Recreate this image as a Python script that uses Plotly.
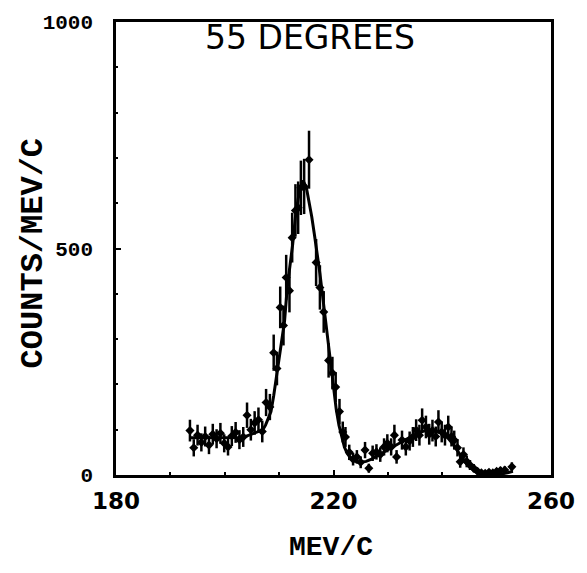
import plotly.graph_objects as go

# ---- data ----
data_x = [193.6, 194.3, 195.0, 195.7, 196.4, 197.1, 197.8, 198.5, 199.2, 199.9,
          200.6, 201.3, 202.0, 202.7, 203.4, 204.1, 204.8, 205.5, 206.2, 206.9,
          207.6, 208.3, 209.0, 209.6, 210.2, 210.8, 211.3, 211.9, 212.4, 213.0,
          213.5, 214.0, 214.6, 215.5, 216.8, 217.5, 218.2, 219.1, 219.8, 220.4,
          221.1, 221.7, 222.2, 222.9, 223.6, 224.3, 225.0, 225.8, 226.5, 227.2,
          227.9, 228.6, 229.3, 229.9, 230.6, 231.2, 231.6, 232.6, 233.3, 234.0,
          234.6, 235.2, 235.8, 236.3, 237.0, 237.6, 238.2, 238.8, 239.3, 239.9,
          240.5, 241.1, 241.7, 242.2, 242.8, 243.3, 243.9, 244.5, 245.1, 245.8,
          246.5, 247.2, 247.9, 248.6, 249.3, 250.0, 250.7, 251.5, 252.8]
data_y = [98, 60, 88, 72, 85, 66, 90, 80, 92, 70,
          62, 86, 94, 78, 84, 132, 100, 115, 122, 96,
          160, 150, 270, 235, 370, 330, 436, 407, 524, 584,
          590, 634, 637, 696, 469, 414, 360, 253, 225, 194,
          140, 95, 84, 50, 35, 40, 28, 55, 15, 48,
          51, 45, 62, 70, 62, 88, 40, 77, 62, 75,
          84, 99, 88, 121, 106, 90, 98, 85, 117, 95,
          88, 106, 85, 77, 60, 29, 45, 30, 22, 15,
          8, 5, 4, 6, 5, 8, 10, 11, 18]
data_err = [24, 19, 23, 20, 22, 20, 23, 21, 23, 20,
            19, 22, 23, 21, 22, 28, 24, 26, 27, 24,
            30, 29, 40, 37, 46, 44, 50, 48, 55, 58,
            58, 60, 61, 64, 52, 49, 46, 38, 36, 33,
            28, 23, 22, 17, 14, 15, 13, 18, 10, 17,
            17, 16, 19, 20, 19, 23, 15, 21, 19, 21,
            22, 24, 23, 26, 25, 23, 24, 22, 26, 23,
            23, 25, 22, 21, 19, 13, 16, 13, 11, 9,
            7, 5, 5, 6, 5, 7, 8, 8, 10]

fit_x = [193.5, 195, 197, 199, 201, 203, 204, 205, 206, 207,
         207.5, 208, 208.5, 209, 209.5, 210, 210.5, 211, 211.5, 212,
         212.5, 213, 213.5, 214, 214.4, 215, 215.5, 216, 216.5, 217,
         217.5, 218, 218.5, 219, 219.5, 220, 220.5, 221, 221.5, 222,
         222.5, 223, 224, 225, 226, 227, 228, 229, 230, 231,
         232, 233, 234, 235, 236, 237, 238, 239, 240, 241,
         242, 243, 244, 245, 246, 247, 248, 249, 250, 251, 252, 253]
fit_y = [82, 82, 82, 82, 82, 83, 86, 90, 95, 100,
         110, 125, 140, 175, 216, 255, 290, 340, 415, 460,
         510, 570, 610, 638, 650, 635, 605, 570, 530, 490,
         445, 395, 345, 290, 235, 185, 145, 110, 85, 62,
         48, 40, 30, 28, 30, 35, 42, 49, 56, 63,
         70, 77, 84, 90, 95, 98, 99, 97, 92, 82,
         68, 50, 32, 18, 8, 3, 1, 0, 0, 2, 5, 8]

x_ticks = [180, 220, 260]
y_ticks = [0, 500, 1000]

fig = go.Figure()
fig.add_trace(go.Scatter(
    x=fit_x, y=fit_y, mode="lines",
    line=dict(color="black", width=3), showlegend=False, hoverinfo="skip"))
fig.add_trace(go.Scatter(
    x=data_x, y=data_y, mode="markers",
    marker=dict(symbol="diamond", size=7, color="black"),
    error_y=dict(type="data", array=data_err, color="black", thickness=2.5, width=0),
    showlegend=False))

fig.update_layout(
    width=587, height=573,
    margin=dict(l=116, r=27, t=21, b=98),
    paper_bgcolor="white", plot_bgcolor="white",
    xaxis=dict(range=[180, 260], tickvals=x_ticks, ticktext=[str(v) for v in x_ticks],
               showgrid=False, zeroline=False, showline=True, linecolor="black",
               linewidth=2.5, mirror=True, ticks="inside", ticklen=5, tickwidth=2,
               tickcolor="black",
               tickfont=dict(family="DejaVu Sans", size=23, color="black", weight="bold"),
               ticklabelstandoff=4,
               minor=dict(dtick=10, ticks="inside", ticklen=3, tickcolor="black")),
    yaxis=dict(range=[0, 1000], tickvals=y_ticks, ticktext=[str(v) for v in y_ticks],
               showgrid=False, zeroline=False, showline=True, linecolor="black",
               linewidth=2.5, mirror=True, ticks="inside", ticklen=5, tickwidth=2,
               tickcolor="black",
               tickfont=dict(family="Liberation Mono", size=21, color="black", weight="bold"),
               ticklabelstandoff=16,
               minor=dict(dtick=100, ticks="inside", ticklen=2, tickcolor="black")),
    annotations=[
        dict(text="55 DEGREES", x=0.445, y=0.965, xref="paper", yref="paper",
             xanchor="center", yanchor="middle", showarrow=False,
             font=dict(family="DejaVu Sans", size=33, color="black")),
        dict(text="MEV/C", x=0.495, y=-0.16, xref="paper", yref="paper",
             xanchor="center", yanchor="middle", showarrow=False,
             font=dict(family="Liberation Mono", size=28, color="black", weight="bold")),
        dict(text="COUNTS/MEV/C", x=-0.19, y=0.49, xref="paper", yref="paper",
             xanchor="center", yanchor="middle", showarrow=False, textangle=-90,
             font=dict(family="Liberation Mono", size=32, color="black", weight="bold")),
    ],
)

fig.write_html("out.html")
